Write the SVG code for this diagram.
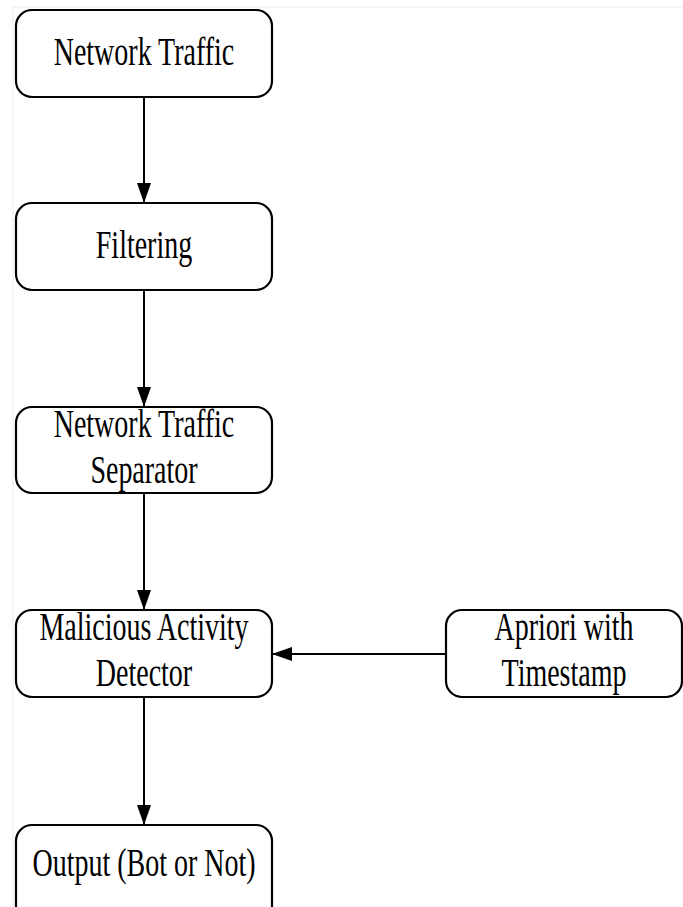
<svg xmlns="http://www.w3.org/2000/svg" width="683" height="907" viewBox="0 0 683 907">
<style>
.box{fill:#fff;stroke:#000;stroke-width:2.2}
.t{font-family:"Liberation Serif","Times New Roman",serif;font-size:28px;fill:#000;text-anchor:middle}
.c{stroke:#000;stroke-width:2;fill:none}
</style>
<defs>
<marker id="ah" markerUnits="userSpaceOnUse" markerWidth="22" markerHeight="16" refX="20" refY="8" orient="auto">
<path d="M0,1 L20,8 L0,15 Z" fill="#000"/>
</marker>
</defs>
<rect x="0" y="0" width="683" height="907" fill="#fff"/>
<line x1="13" y1="7" x2="683" y2="7" stroke="#ebebeb" stroke-width="1"/>
<line x1="13" y1="7" x2="13" y2="907" stroke="#ebebeb" stroke-width="1"/>
<g id="connectors">
<line class="c" x1="144" y1="97" x2="144" y2="203" marker-end="url(#ah)"/>
<line class="c" x1="144" y1="290" x2="144" y2="407" marker-end="url(#ah)"/>
<line class="c" x1="144" y1="493" x2="144" y2="610" marker-end="url(#ah)"/>
<line class="c" x1="144" y1="697" x2="144" y2="825" marker-end="url(#ah)"/>
<line class="c" x1="446" y1="654" x2="272" y2="654" marker-end="url(#ah)"/>
</g>
<g id="n1">
<rect class="box" x="16" y="10" width="256" height="87" rx="16"/>
<text class="t" transform="translate(144,65) scale(1,1.4)">Network Traffic</text>
</g>
<g id="n2">
<rect class="box" x="16" y="203" width="256" height="87" rx="16"/>
<text class="t" transform="translate(144,258) scale(1,1.4)">Filtering</text>
</g>
<g id="n3">
<rect class="box" x="16" y="407" width="256" height="86" rx="16"/>
<text class="t" transform="translate(144,437) scale(1,1.4)">Network Traffic</text>
<text class="t" transform="translate(144,483) scale(1,1.4)">Separator</text>
</g>
<g id="n4">
<rect class="box" x="16" y="610" width="256" height="87" rx="16"/>
<text class="t" transform="translate(144,640) scale(1,1.4)">Malicious Activity</text>
<text class="t" transform="translate(144,686) scale(1,1.4)">Detector</text>
</g>
<g id="n5">
<rect class="box" x="446" y="610" width="236" height="87" rx="16"/>
<text class="t" transform="translate(564,640) scale(1,1.4)">Apriori with</text>
<text class="t" transform="translate(564,686) scale(1,1.4)">Timestamp</text>
</g>
<g id="n6">
<rect class="box" x="16" y="825" width="256" height="100" rx="16"/>
<text class="t" transform="translate(144,876) scale(1,1.4)">Output (Bot or Not)</text>
</g>
</svg>
